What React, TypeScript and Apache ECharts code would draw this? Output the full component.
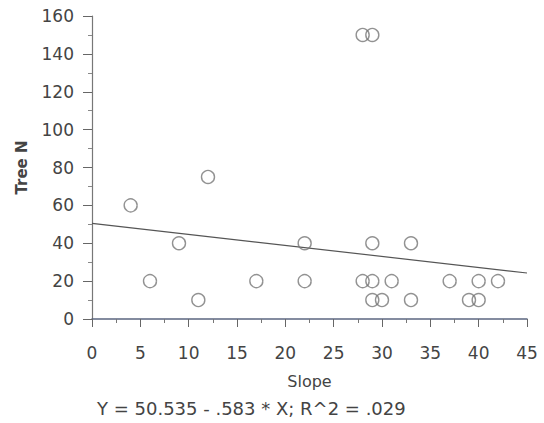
import React, { useEffect, useRef } from "react";
import * as echarts from "echarts";

const slopeValues = [4, 6, 9, 11, 12, 17, 22, 22, 28, 29, 28, 29, 29, 29, 30, 31, 33, 33, 37, 39, 40, 40, 42];
const treeNValues = [60, 20, 40, 10, 75, 20, 40, 20, 150, 150, 20, 20, 40, 10, 10, 20, 40, 10, 20, 10, 10, 20, 20];
const fitIntercept = 50.535;
const fitSlope = -0.583;
const fitRange = [0, 45];
const xTicks = [0, 45, 5];
const yTicks = [0, 160, 20];
const equationText = "Y = 50.535 - .583 * X; R^2 = .029";

export default function App() {
  const ref = useRef<HTMLDivElement>(null);
  useEffect(() => {
    if (!ref.current) return;
    const chart = echarts.init(ref.current, null, { renderer: "svg" });
    const font = "DejaVu Sans, Verdana, sans-serif";
    const textColor = "#444";
    const points = slopeValues.map((x, i) => [x, treeNValues[i]]);
    const fitLine = fitRange.map((x) => [x, fitIntercept + fitSlope * x]);
    chart.setOption({
      animation: false,
      backgroundColor: "#fff",
      grid: { left: 92, right: 17, top: 16, bottom: 104 },
      xAxis: {
        type: "value",
        min: xTicks[0],
        max: xTicks[1],
        interval: xTicks[2],
        name: "Slope",
        nameLocation: "middle",
        nameGap: 54,
        nameTextStyle: { fontFamily: font, fontSize: 16, color: textColor },
        axisLine: { show: true, lineStyle: { color: "#5b6680", width: 1.5 } },
        axisTick: { show: true, length: 8, lineStyle: { color: "#666" } },
        minorTick: { show: true, splitNumber: 2, length: 4, lineStyle: { color: "#777" } },
        splitLine: { show: false },
        axisLabel: { fontFamily: font, fontSize: 17, color: textColor, margin: 25 },
      },
      yAxis: {
        type: "value",
        min: yTicks[0],
        max: yTicks[1],
        interval: yTicks[2],
        name: "Tree N",
        nameLocation: "middle",
        nameGap: 63,
        nameTextStyle: { fontFamily: font, fontSize: 15, fontWeight: "bold", color: textColor },
        axisLine: { show: true, lineStyle: { color: "#777", width: 1.2 } },
        axisTick: { show: true, length: 9, lineStyle: { color: "#666" } },
        minorTick: { show: true, splitNumber: 2, length: 4, lineStyle: { color: "#888" } },
        splitLine: { show: false },
        axisLabel: { fontFamily: font, fontSize: 17, color: textColor, margin: 18, padding: [6, 0, 0, 0] },
      },
      graphic: [
        {
          type: "text",
          left: 97,
          top: 399,
          style: { text: equationText, fontFamily: font, fontSize: 18, fill: textColor },
        },
      ],
      series: [
        {
          type: "line",
          data: fitLine,
          symbol: "none",
          lineStyle: { color: "#555", width: 1.2 },
          z: 1,
        },
        {
          type: "scatter",
          data: points,
          symbol: "circle",
          symbolSize: 13,
          itemStyle: { color: "rgba(255,255,255,0)", borderColor: "#777", borderWidth: 1.4 },
          z: 2,
        },
      ],
    });
    return () => chart.dispose();
  }, []);
  return <div ref={ref} style={{ width: 544, height: 423, position: "absolute", left: 0, top: 0 }} />;
}
